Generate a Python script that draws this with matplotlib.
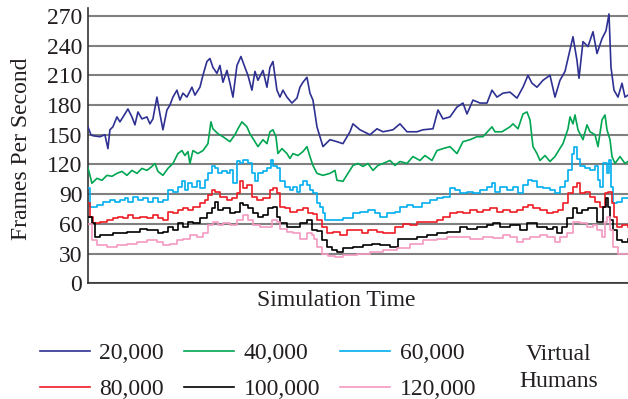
import matplotlib
matplotlib.use('Agg')
import matplotlib.pyplot as plt

plt.rcParams['font.family'] = ['Liberation Serif', 'DejaVu Serif']

# sample times (arbitrary units) and frame rates
t_20k = [0, 3, 5, 12, 17, 20, 22, 25, 29, 32, 37, 40, 44, 47, 50, 54, 59, 62, 65, 69,
         72, 75, 79, 82, 85, 89, 92, 95, 99, 104, 107, 112, 115, 119, 122, 125, 129, 132,
         135, 139, 142, 145, 149, 153, 157, 160, 164, 167, 170, 175, 179, 182, 185, 189,
         192, 195, 199, 204, 209, 212, 215, 219, 222, 225, 229, 232, 235, 242, 249, 255,
         262, 265, 272, 282, 289, 295, 305, 312, 319, 329, 335, 345, 350, 355, 362, 369,
         375, 379, 385, 392, 399, 404, 409, 415, 422, 429, 435, 440, 444, 449, 455, 462,
         467, 472, 477, 480, 485, 489, 491, 495, 500, 505, 509, 514, 518, 521, 523, 526,
         530, 534, 537, 540]
fps_20k = [158, 150, 149, 148, 150, 136, 155, 158, 168, 163, 171, 176, 168, 160, 173, 166,
           168, 161, 166, 188, 171, 155, 175, 180, 188, 195, 185, 192, 188, 198, 190, 198,
           210, 224, 227, 218, 212, 220, 203, 215, 202, 188, 220, 229, 218, 210, 195, 214,
           205, 215, 198, 218, 224, 195, 188, 195, 188, 182, 187, 198, 203, 208, 192, 185,
           158, 148, 138, 145, 143, 141, 153, 161, 155, 150, 156, 153, 155, 161, 153, 153,
           155, 156, 175, 166, 168, 178, 182, 171, 185, 182, 182, 195, 188, 192, 193, 187,
           198, 210, 202, 198, 205, 210, 188, 205, 214, 227, 249, 225, 207, 244, 239, 254,
           232, 247, 255, 272, 218, 195, 188, 202, 188, 190]

t_40k = [0, 4, 9, 14, 19, 24, 29, 34, 39, 44, 49, 54, 59, 64, 67, 70, 75, 80, 85, 90, 94,
         97, 100, 102, 105, 110, 115, 120, 123, 125, 130, 135, 142, 147, 150, 154, 159, 162,
         167, 170, 175, 179, 182, 185, 188, 190, 194, 199, 202, 205, 210, 215, 219, 222,
         225, 229, 235, 242, 247, 249, 255, 260, 265, 270, 275, 280, 285, 290, 295, 302,
         307, 312, 319, 325, 332, 337, 344, 349, 355, 362, 369, 375, 382, 389, 395, 404,
         407, 414, 422, 425, 430, 435, 439, 442, 445, 449, 452, 457, 462, 467, 470, 475,
         480, 482, 485, 487, 490, 495, 499, 502, 507, 510, 514, 517, 519, 522, 524, 527,
         532, 537, 540]
fps_40k = [117, 101, 106, 104, 109, 108, 111, 113, 109, 114, 111, 116, 114, 118, 121, 113,
           109, 116, 121, 131, 134, 129, 133, 121, 134, 131, 134, 141, 163, 156, 151, 148,
           143, 150, 156, 163, 158, 151, 143, 138, 145, 141, 153, 155, 148, 131, 136, 131,
           126, 131, 129, 133, 138, 128, 119, 111, 109, 111, 114, 104, 103, 111, 119, 121,
           118, 121, 114, 119, 121, 124, 119, 123, 121, 128, 124, 129, 124, 134, 136, 138,
           131, 143, 145, 148, 148, 158, 153, 153, 158, 161, 156, 171, 173, 165, 138, 131,
           124, 129, 123, 128, 133, 141, 156, 168, 161, 170, 155, 145, 160, 153, 150, 138,
           165, 170, 155, 145, 128, 121, 128, 121, 123]

t_60k = [0, 2, 9, 15, 22, 27, 32, 37, 40, 45, 50, 55, 60, 65, 70, 75, 80, 85, 90, 94, 97,
         100, 104, 109, 112, 117, 120, 124, 127, 130, 134, 139, 142, 145, 149, 152, 155,
         160, 164, 167, 170, 175, 179, 183, 185, 189, 192, 197, 202, 205, 209, 212, 215,
         219, 222, 225, 229, 232, 235, 237, 245, 255, 265, 272, 280, 287, 292, 299, 307,
         312, 319, 325, 334, 342, 349, 355, 362, 367, 372, 379, 385, 392, 399, 404, 407,
         412, 419, 425, 430, 435, 440, 444, 449, 455, 462, 467, 472, 477, 480, 484, 486,
         489, 492, 497, 502, 507, 510, 512, 515, 519, 521, 523, 525, 529, 534, 540]
fps_60k = [96, 77, 79, 82, 84, 82, 84, 86, 82, 87, 84, 86, 82, 86, 82, 84, 94, 92, 97, 103,
           94, 101, 97, 103, 96, 104, 111, 118, 116, 111, 113, 111, 114, 101, 123, 121, 124,
           121, 111, 103, 111, 113, 116, 124, 118, 116, 103, 97, 94, 97, 92, 99, 103, 99, 94,
           91, 81, 77, 71, 64, 64, 66, 71, 72, 74, 71, 67, 71, 72, 77, 79, 77, 81, 84, 86,
           87, 96, 94, 91, 92, 91, 94, 97, 101, 92, 97, 94, 97, 91, 99, 104, 103, 97, 96,
           94, 91, 97, 103, 114, 131, 138, 126, 118, 116, 114, 118, 104, 97, 121, 111, 124,
           97, 81, 82, 86, 86]

t_80k = [0, 2, 5, 12, 19, 25, 30, 35, 40, 45, 52, 59, 65, 70, 75, 80, 85, 90, 95, 100, 105,
         112, 117, 120, 124, 127, 132, 139, 144, 149, 152, 155, 159, 164, 169, 175, 182,
         185, 189, 192, 197, 202, 209, 215, 220, 225, 229, 234, 239, 245, 252, 259, 265,
         274, 280, 289, 295, 307, 315, 322, 329, 339, 349, 355, 362, 369, 375, 382, 389,
         395, 402, 409, 415, 422, 429, 435, 440, 445, 452, 459, 465, 470, 475, 480, 485,
         489, 492, 497, 502, 507, 512, 517, 520, 524, 526, 529, 534, 540]
fps_80k = [81, 67, 61, 62, 64, 66, 67, 66, 69, 66, 67, 66, 69, 66, 64, 72, 71, 74, 76, 74,
           77, 81, 84, 89, 94, 92, 87, 84, 86, 91, 103, 96, 99, 87, 84, 86, 94, 96, 91, 77,
           76, 72, 74, 76, 71, 70, 64, 57, 51, 52, 49, 54, 54, 51, 54, 52, 51, 57, 60, 59,
           62, 62, 64, 67, 71, 72, 71, 74, 72, 74, 76, 72, 74, 72, 74, 77, 79, 76, 74, 71,
           72, 74, 81, 91, 97, 101, 91, 92, 87, 82, 77, 91, 92, 81, 67, 57, 59, 57]

t_100k = [0, 4, 7, 12, 19, 25, 32, 39, 45, 52, 59, 65, 70, 75, 80, 85, 90, 95, 100, 105,
          112, 119, 124, 127, 130, 135, 142, 147, 152, 155, 160, 165, 170, 175, 180, 185,
          189, 192, 199, 205, 212, 219, 224, 229, 234, 239, 244, 249, 255, 265, 275, 284,
          292, 302, 310, 319, 329, 339, 349, 359, 372, 379, 389, 399, 405, 412, 422, 432,
          439, 449, 459, 465, 469, 474, 479, 485, 489, 494, 500, 505, 509, 512, 515, 518,
          520, 522, 525, 529, 534, 540]
fps_100k = [67, 61, 47, 49, 49, 51, 51, 52, 52, 55, 54, 54, 51, 52, 57, 54, 61, 57, 62, 61,
            66, 71, 76, 82, 74, 76, 71, 72, 81, 79, 76, 71, 67, 69, 76, 77, 67, 61, 57, 57,
            61, 64, 54, 53, 44, 37, 34, 32, 36, 37, 39, 40, 39, 37, 45, 45, 47, 49, 51, 52,
            57, 55, 57, 59, 61, 57, 59, 54, 61, 57, 55, 57, 51, 57, 66, 76, 71, 74, 76, 76,
            62, 62, 77, 86, 77, 64, 54, 44, 42, 45]

t_120k = [0, 4, 9, 19, 29, 39, 49, 59, 69, 75, 82, 89, 95, 102, 109, 115, 120, 125, 130,
          135, 142, 149, 155, 160, 165, 172, 179, 184, 189, 192, 199, 205, 212, 219, 224,
          226, 229, 234, 240, 247, 255, 269, 282, 295, 309, 322, 335, 349, 359, 372, 382,
          395, 405, 415, 422, 429, 435, 442, 452, 459, 467, 472, 479, 485, 492, 499, 505,
          509, 514, 517, 519, 522, 525, 530, 540]
fps_120k = [60, 44, 39, 37, 39, 40, 42, 44, 42, 39, 40, 44, 45, 49, 47, 51, 59, 62, 59, 61,
            59, 64, 69, 64, 59, 57, 57, 64, 62, 55, 52, 51, 45, 51, 49, 45, 37, 30, 28, 27,
            29, 30, 32, 34, 36, 40, 44, 45, 47, 47, 45, 47, 46, 49, 47, 42, 45, 47, 49, 47,
            42, 47, 51, 62, 61, 57, 59, 54, 47, 62, 67, 54, 37, 30, 30]

labels = ['20,000', '40,000', '60,000', '80,000', '100,000', '120,000']
colors = ['#2e3192', '#00a651', '#00aeef', '#ed1c24', '#000000', '#f49ac1']
yticks = [0, 30, 60, 90, 120, 150, 180, 210, 240, 270]

text_color = '#231f20'
fs = 17

fig = plt.figure(figsize=(6.28, 3.99), dpi=100)
ax = fig.add_axes([0.140, 0.290, 0.860, 0.690])

series = [(t_20k, fps_20k), (t_40k, fps_40k), (t_60k, fps_60k),
          (t_80k, fps_80k), (t_100k, fps_100k), (t_120k, fps_120k)]
# the two fastest runs are jagged, the slower ones plateau in steps
styles = ['default', 'default', 'steps-post', 'steps-post', 'steps-post', 'steps-post']
lines = []
for (t, v), lab, col, ds in zip(series, labels, colors, styles):
    ln, = ax.plot(t, v, color=col, lw=1.2, drawstyle=ds, label=lab, zorder=3)
    lines.append(ln)

ax.set_xlim(0, 540)
ax.set_ylim(0, 278)
ax.set_yticks(yticks)
ax.set_xticks([])
ax.grid(axis='y', color='#808080', lw=1.5)
ax.set_axisbelow(True)
for s in ['top', 'right']:
    ax.spines[s].set_visible(False)
for s in ['left', 'bottom']:
    ax.spines[s].set_color('#333333')
    ax.spines[s].set_linewidth(1.2)
ax.tick_params(axis='y', length=0, pad=4, labelsize=fs, labelcolor=text_color)

fig.text(0.034, 0.626, 'Frames Per Second', rotation=90, ha='center', va='center',
         fontsize=fs, color=text_color)
fig.text(0.535, 0.248, 'Simulation Time', ha='center', va='center',
         fontsize=fs, color=text_color)

# matplotlib fills legend columns first, so interleave rows
order = [0, 3, 1, 4, 2, 5]
fig.legend([lines[i] for i in order], [labels[i] for i in order], ncol=3,
           loc='upper left', bbox_to_anchor=(40 / 628, 0.142), frameon=False,
           fontsize=fs, handlelength=2.1, handletextpad=0.42, columnspacing=0.85,
           labelspacing=0.62, borderpad=0, borderaxespad=0, labelcolor=text_color)
fig.text(0.889, 0.077, 'Virtual\nHumans', ha='center', va='center', fontsize=fs,
         color=text_color, linespacing=1.4)

fig.savefig('out.png', dpi=100)
